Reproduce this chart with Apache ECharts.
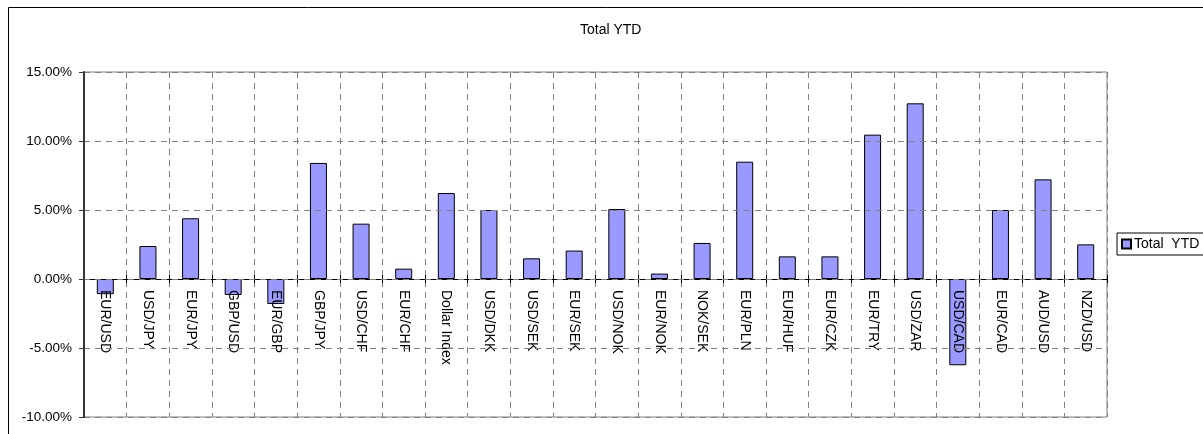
<!DOCTYPE html>
<html>
<head>
<meta charset="utf-8">
<script src="https://cdn.jsdelivr.net/npm/echarts@6/dist/echarts.min.js"></script>
<style>
  html, body { margin: 0; padding: 0; background: #fff; }
  #chart { width: 1203px; height: 434px; }
</style>
</head>
<body>
<div id="chart"></div>
<script>
// categories and YTD change (in %)
var pairs = ['EUR/USD', 'USD/JPY', 'EUR/JPY', 'GBP/USD', 'EUR/GBP', 'GBP/JPY', 'USD/CHF', 'EUR/CHF',
    'Dollar Index', 'USD/DKK', 'USD/SEK', 'EUR/SEK', 'USD/NOK', 'EUR/NOK', 'NOK/SEK', 'EUR/PLN',
    'EUR/HUF', 'EUR/CZK', 'EUR/TRY', 'USD/ZAR', 'USD/CAD', 'EUR/CAD', 'AUD/USD', 'NZD/USD'];
var totalYtd = [-1.10, 2.39, 4.40, -1.16, -1.81, 8.41, 4.01, 0.75,
    6.23, 5.00, 1.50, 2.06, 5.07, 0.39, 2.61, 8.50,
    1.64, 1.64, 10.46, 12.73, -6.25, 5.00, 7.22, 2.51];
var yTicks = { min: -10, max: 15, step: 5 };

var font = '"Liberation Sans", Arial, sans-serif';
var gridTop = 72, gridBottom = 17;
var plotHeight = 434 - gridTop - gridBottom;
// lift the category axis up to the zero line (labels included)
var zeroOffset = -plotHeight * (0 - yTicks.min) / (yTicks.max - yTicks.min);

var chart = echarts.init(document.getElementById('chart'), null, { renderer: 'canvas' });

chart.setOption({
    animation: false,
    textStyle: { fontFamily: font },
    title: {
        text: 'Total YTD',
        left: 575,
        top: 18,
        textStyle: { fontSize: 14, fontWeight: 'normal', color: '#000', fontFamily: font }
    },
    legend: {
        left: 1117,
        top: 233,
        padding: [4, 6, 4, 4],
        borderColor: '#000',
        borderWidth: 1,
        borderRadius: 0,
        icon: 'rect',
        itemWidth: 9,
        itemHeight: 9,
        itemGap: 3,
        textStyle: { fontSize: 14, color: '#000', fontFamily: font, padding: [0, 0, 0, -2] },
        data: ['Total  YTD']
    },
    graphic: [{
        type: 'rect',
        shape: { x: 8.5, y: 7.5, width: 1300, height: 500 },
        style: { fill: null, stroke: '#000', lineWidth: 1 },
        silent: true
    }],
    grid: {
        left: 84,
        right: 96,
        top: gridTop,
        bottom: gridBottom,
        outerBoundsMode: 'none',
        containLabel: false,
        show: true,
        borderColor: '#808080',
        borderWidth: 1
    },
    xAxis: [{
        type: 'category',
        data: pairs,
        position: 'bottom',
        offset: zeroOffset,
        axisLine: { onZero: false, lineStyle: { color: '#000', width: 1 } },
        axisTick: { show: true, interval: 0, length: 4, lineStyle: { color: '#000' } },
        axisLabel: {
            interval: 0,
            rotate: -90,
            margin: 11,
            fontSize: 14,
            color: '#000',
            fontFamily: font
        },
        splitLine: {
            show: true,
            interval: 0,
            lineStyle: { color: '#808080', type: [6, 5], width: 1 }
        },
        z: 3
    }, {
        // upper half of the crossing tick marks
        type: 'category',
        data: pairs,
        position: 'bottom',
        offset: zeroOffset,
        axisLine: { show: false, onZero: false },
        axisTick: { show: true, inside: true, interval: 0, length: 4, lineStyle: { color: '#000' } },
        axisLabel: { show: false },
        splitLine: { show: false },
        z: 3
    }],
    yAxis: {
        type: 'value',
        min: yTicks.min,
        max: yTicks.max,
        interval: yTicks.step,
        z: 5,
        axisLine: { show: true, lineStyle: { color: '#333', width: 2 } },
        axisTick: { show: true, length: 5, lineStyle: { color: '#333' } },
        axisLabel: {
            margin: 12,
            fontSize: 13.5,
            color: '#000',
            fontFamily: font,
            formatter: function (v) { return v.toFixed(2) + '%'; }
        },
        splitLine: {
            show: true,
            lineStyle: { color: '#808080', type: [6, 5], width: 1 }
        }
    },
    series: [{
        name: 'Total  YTD',
        type: 'bar',
        data: totalYtd,
        barWidth: 17,
        itemStyle: { color: '#9999FF', borderColor: '#000', borderWidth: 1 },
        z: 1
    }]
});
</script>
</body>
</html>
